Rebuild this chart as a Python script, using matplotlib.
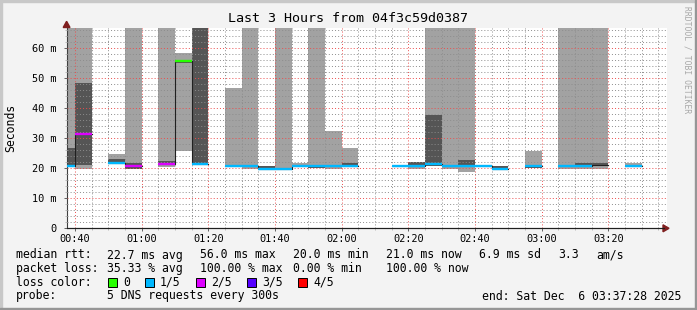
import numpy as np
import matplotlib
matplotlib.use('Agg')
import matplotlib.pyplot as plt
from matplotlib.patches import Rectangle, Polygon
from matplotlib.lines import Line2D

W, H = 697, 310  # output size in pixels

plt.rcParams['font.family'] = 'DejaVu Sans Mono'

# 5 minute steps, start time of each step
steps = ['00:35', '00:40', '00:45', '00:50', '00:55', '01:00', '01:05', '01:10', '01:15', '01:20',
         '01:25', '01:30', '01:35', '01:40', '01:45', '01:50', '01:55', '02:00', '02:05', '02:10',
         '02:15', '02:20', '02:25', '02:30', '02:35', '02:40', '02:45', '02:50', '02:55', '03:00',
         '03:05', '03:10', '03:15', '03:20', '03:25', '03:30', '03:35']
nan = np.nan
# outer smoke band (ms), 75 = goes off the top of the graph
smoke_lo = [21.0, 19.9, nan, 21.3, 19.8, nan, 20.5, 25.9, nan, nan,
            20.5, 19.9, nan, 19.8, 20.8, 20.8, 19.9, 20.8, nan, nan,
            nan, 19.9, 20.9, 19.9, 18.8, nan, nan, nan, 20.8, nan,
            19.9, 19.9, 19.8, nan, 20.8, nan, nan]
smoke_hi = [75, 75, nan, 24.8, 75, nan, 75, 58.5, nan, nan,
            46.9, 75, nan, 75, 21.8, 75, 32.4, 26.9, nan, nan,
            nan, 20.8, 75, 75, 75, nan, nan, nan, 25.8, nan,
            75, 75, 75, nan, 21.7, nan, nan]
# inner (darker) smoke band
inner_lo = [21.0, 21.1, nan, 21.3, 19.8, nan, 21.0, 55.0, 21.0, nan,
            nan, nan, 20.2, nan, nan, 20.0, nan, 21.0, nan, nan,
            nan, 20.8, 20.9, nan, 21.0, nan, 20.2, nan, 20.0, nan,
            nan, 20.9, 20.9, nan, nan, nan, nan]
inner_hi = [26.9, 48.5, nan, 23.0, 21.9, nan, 22.5, 55.9, 75, nan,
            nan, nan, 20.9, nan, nan, 20.8, nan, 21.8, nan, nan,
            nan, 22.0, 37.8, nan, 22.8, nan, 20.8, nan, 20.8, nan,
            nan, 21.7, 21.7, nan, nan, nan, nan]
median = [20.8, 31.6, nan, 21.9, 20.8, nan, 21.5, 55.6, 21.3, nan,
          20.8, 20.8, 19.9, 19.9, 20.8, 20.8, 20.8, 20.8, nan, nan,
          20.8, 20.8, 21.6, 20.8, 20.8, 20.9, 19.8, nan, 20.8, nan,
          20.8, 20.8, 21.0, nan, 20.8, nan, nan]
# lost pings out of 5 (-1 = median without loss colour)
loss = [1, 2, nan, 1, 2, nan, 2, 0, 1, nan,
        1, 1, 1, 1, 1, 1, 1, 1, nan, nan,
        1, 1, 1, 1, 1, 1, 1, nan, 1, nan,
        1, 1, -1, nan, 1, nan, nan]

loss_colors = {0: '#26ff00', 1: '#00b8ff', 2: '#dd00ff', 3: '#5500ff', 4: '#ff0000'}
loss_names = ['0', '1/5', '2/5', '3/5', '4/5']

xtick_labels = ['00:40', '01:00', '01:20', '01:40', '02:00', '02:20', '02:40', '03:00', '03:20']
ytick_vals = [0, 10, 20, 30, 40, 50, 60]
ytick_labels = ['0', '10 m', '20 m', '30 m', '40 m', '50 m', '60 m']

start_min = 37 + 28 / 60.
end_min = 217 + 28 / 60.


def to_min(s):
    h, m = s.split(':')
    return int(h) * 60 + int(m)


def px(x, y):
    # pixel position -> figure fraction
    return (x / W, 1 - y / H)


t = np.array([to_min(s) for s in steps], dtype=float)
smoke_lo = np.array(smoke_lo)
smoke_hi = np.array(smoke_hi)
inner_lo = np.array(inner_lo)
inner_hi = np.array(inner_hi)
median = np.array(median)

fig = plt.figure(figsize=(W / 100, H / 100), dpi=100, facecolor='#f3f3f3')
ax = fig.add_axes([66.6 / W, 1 - 228.3 / H, 600 / W, 200.4 / H])
ax.set_facecolor('white')

# smoke
m = ~np.isnan(smoke_lo)
ax.bar(t[m], smoke_hi[m] - smoke_lo[m], width=5, bottom=smoke_lo[m], align='edge',
       color='#a2a2a2', linewidth=0, zorder=1)
m = ~np.isnan(inner_lo)
ax.bar(t[m], inner_hi[m] - inner_lo[m], width=5, bottom=inner_lo[m], align='edge',
       color='#555555', linewidth=0, zorder=1.1)

# median line (black steps) and loss coloured median
xs = np.append(t, t[-1] + 5)
ys = np.append(median, median[-1])
ax.step(xs, ys, where='post', color='#202020', lw=0.8, zorder=3)
for i in range(len(t)):
    if loss[i] in loss_colors:
        ax.hlines(median[i], t[i], t[i] + 5, colors=loss_colors[loss[i]], lw=1.7, zorder=4)

ax.set_xlim(start_min, end_min)
ax.set_ylim(0, 66.8)

ax.set_xticks([to_min(s) for s in xtick_labels])
ax.set_xticklabels(xtick_labels)
ax.set_xticks(np.arange(40, 216, 5), minor=True)
ax.set_yticks(ytick_vals)
ax.set_yticklabels(ytick_labels)
ax.set_yticks(np.arange(0, 67, 2), minor=True)

ax.grid(which='minor', color=(0.55, 0.55, 0.55, 0.26), ls=(0, (1, 2.2)), lw=0.7)
ax.grid(which='major', color=(0.92, 0.3, 0.3, 0.32), ls=(0, (1, 2.2)), lw=0.7)
ax.set_axisbelow(False)

ax.tick_params(which='major', direction='out', length=2, width=0.7, color='#606060',
               labelsize=7.4, pad=2)
ax.tick_params(which='minor', direction='out', length=1.5, width=0.6, color='#b0b0b0')
ax.tick_params(axis='y', which='major', pad=5.5)
for s in ['top', 'right']:
    ax.spines[s].set_visible(False)
ax.spines['left'].set_color('#404040')
ax.spines['bottom'].set_color('#1f1f1f')
ax.spines['left'].set_linewidth(0.8)
ax.spines['bottom'].set_linewidth(0.8)

# axis arrows
fig.add_artist(Line2D([px(66.6, 0)[0], px(664, 0)[0]], [px(0, 228.3)[1]] * 2,
                      color='#1f1f1f', lw=0.8, transform=fig.transFigure))
fig.add_artist(Polygon([px(663, 224.8), px(669, 228.3), px(663, 231.8)], closed=True,
                       color='#7f1f1f', transform=fig.transFigure))
fig.add_artist(Polygon([px(63.2, 27.5), px(66.6, 21.3), px(70, 27.5)], closed=True,
                       color='#7f1f1f', transform=fig.transFigure))

# texts
fig.text(*px(348.5, 19), 'Last 3 Hours from 04f3c59d0387', fontsize=9.6, ha='center', va='center')
fig.text(*px(11, 128), 'Seconds', fontsize=8.3, rotation=90, ha='center', va='center')
fig.text(*px(687, 60), 'RRDTOOL / TOBI OETIKER', fontsize=5.8, rotation=270,
         ha='center', va='center', color='#a8a8a8')

fs = 8.3
row1 = [(16, 'median rtt:'), (107, '22.7 ms avg'), (200, '56.0 ms max'), (293, '20.0 ms min'),
        (386, '21.0 ms now'), (479, '6.9 ms sd'), (558, '3.3'), (596, 'am/s')]
row2 = [(16, 'packet loss:'), (107, '35.33 % avg'), (200, '100.00 % max'), (293, '0.00 % min'),
        (386, '100.00 % now')]
for x, s in row1:
    fig.text(*px(x, 255), s, fontsize=fs, ha='left', va='center')
for x, s in row2:
    fig.text(*px(x, 268.5), s, fontsize=fs, ha='left', va='center')

fig.text(*px(16, 282), 'loss color:', fontsize=fs, ha='left', va='center')
box_x = [108, 145, 196, 247, 298]
for i, bx in enumerate(box_x):
    fig.add_artist(Rectangle(px(bx, 286.5), 8.5 / W, 8.5 / H, facecolor=loss_colors[i],
                             edgecolor='black', lw=0.7, transform=fig.transFigure))
    fig.text(*px(bx + 15, 282), loss_names[i], fontsize=fs, ha='left', va='center')

fig.text(*px(16, 296), 'probe:', fontsize=fs, ha='left', va='center')
fig.text(*px(107, 296), '5 DNS requests every 300s', fontsize=fs, ha='left', va='center')
fig.text(*px(681, 296), 'end: Sat Dec  6 03:37:28 2025', fontsize=fs, ha='right', va='center')

# 3d frame round the image
fig.add_artist(Rectangle((0, 1 - 2 / H), 1, 2 / H, color='#c8c8c8', transform=fig.transFigure))
fig.add_artist(Rectangle((0, 0), 2 / W, 1, color='#c8c8c8', transform=fig.transFigure))
fig.add_artist(Rectangle((0, 0), 1, 2 / H, color='#969696', transform=fig.transFigure))
fig.add_artist(Rectangle((1 - 2 / W, 0), 2 / W, 1, color='#969696', transform=fig.transFigure))

fig.savefig('out.png', dpi=100, facecolor=fig.get_facecolor())
